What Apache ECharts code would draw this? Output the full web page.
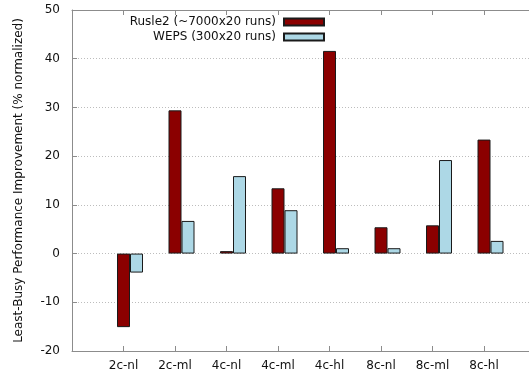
<!DOCTYPE html>
<html>
<head>
<meta charset="utf-8">
<script src="https://cdn.jsdelivr.net/npm/echarts@6/dist/echarts.min.js"></script>
<style>html,body{margin:0;padding:0;background:#fff;}#c{width:529px;height:377px;}</style>
</head>
<body>
<div id="c"></div>
<script>
const categories = ['2c-nl', '2c-ml', '4c-nl', '4c-ml', '4c-hl', '8c-nl', '8c-ml', '8c-hl'];
const rusle2 = [-15.1, 29.4, 0.5, 13.4, 41.6, 5.4, 5.8, 23.4];
const weps = [-3.9, 6.7, 15.9, 8.9, 1.1, 1.1, 19.2, 2.6];
const yTicks = { min: -20, max: 50, interval: 10 };
const seriesNames = ['Rusle2 (~7000x20 runs)', 'WEPS (300x20 runs)'];

const FONT = 'DejaVu Sans';
const toPoints = arr => arr.map((v, i) => [i + 1, v]);

const chart = echarts.init(document.getElementById('c'), null, { renderer: 'canvas' });
const axisGray = '#8c8c8c';
const xCommon = {
  type: 'value', min: 0, max: categories.length + 1, interval: 1,
  axisLine: { show: true, onZero: false, lineStyle: { color: axisGray, width: 1 } },
  axisTick: { show: true, inside: true, length: 5, lineStyle: { color: axisGray } },
  splitLine: { show: false }
};
chart.setOption({
  animation: false,
  textStyle: { fontFamily: FONT },
  grid: { left: 72, width: 463.5, top: 10, bottom: 26, containLabel: false, outerBoundsMode: 'none' },
  legend: {
    data: seriesNames,
    orient: 'vertical', align: 'right',
    right: 204, top: 16, padding: 0,
    itemWidth: 40, itemHeight: 7, itemGap: 3,
    icon: 'rect',
    textStyle: { fontFamily: FONT, fontSize: 12, color: '#111', padding: [0, 3, 0, 0] }
  },
  xAxis: [
    Object.assign({}, xCommon, {
      position: 'bottom',
      axisLabel: { show: true, margin: 9, fontFamily: FONT, fontSize: 12, color: '#111',
        formatter: v => categories[v - 1] || '' }
    }),
    Object.assign({}, xCommon, {
      position: 'top',
      axisLabel: { show: false }
    })
  ],
  yAxis: {
    type: 'value', min: yTicks.min, max: yTicks.max, interval: yTicks.interval,
    name: 'Least-Busy Performance Improvement (% normalized)',
    nameLocation: 'middle', nameGap: 47,
    nameTextStyle: { fontFamily: FONT, fontSize: 12, color: '#111' },
    axisLine: { show: true, lineStyle: { color: axisGray, width: 1 } },
    axisTick: { show: true, inside: true, length: 5, lineStyle: { color: axisGray } },
    axisLabel: { margin: 12, fontFamily: FONT, fontSize: 12, color: '#111' },
    splitLine: { show: true, lineStyle: { color: '#bdbdbd', type: [1, 2], width: 1 } }
  },
  series: [
    { type: 'bar', name: '_slot', data: categories.map(() => null), barWidth: 13, barGap: '0%', silent: true },
    { type: 'bar', name: seriesNames[0], data: toPoints(rusle2), barWidth: 13, barGap: '0%',
      itemStyle: { color: '#8b0000', borderColor: '#1a1a1a', borderWidth: 1 } },
    { type: 'bar', name: seriesNames[1], data: toPoints(weps), barWidth: 13, barGap: '0%',
      itemStyle: { color: '#add8e6', borderColor: '#1a1a1a', borderWidth: 1 } }
  ]
});
</script>
</body>
</html>
